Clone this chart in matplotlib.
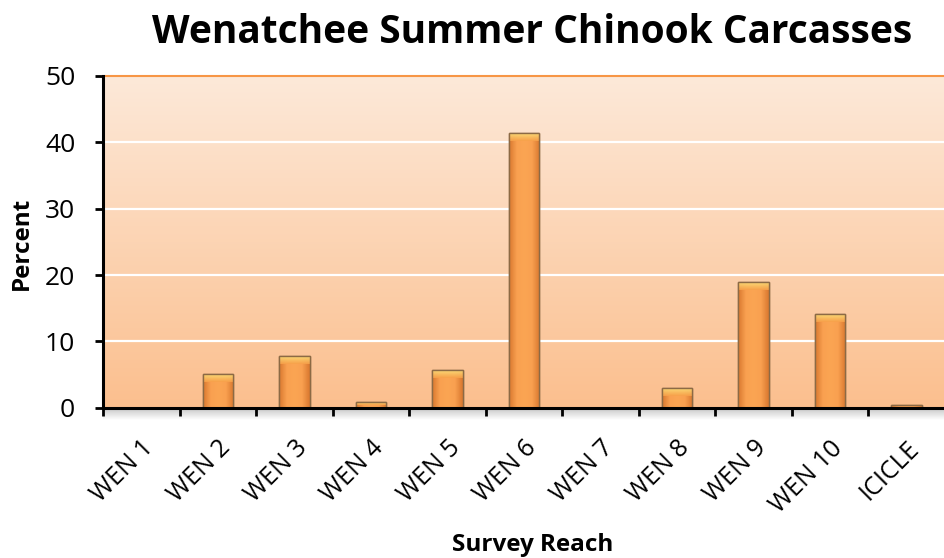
import numpy as np
import matplotlib.pyplot as plt
from matplotlib.colors import LinearSegmentedColormap

reaches = ["WEN 1", "WEN 2", "WEN 3", "WEN 4", "WEN 5", "WEN 6",
           "WEN 7", "WEN 8", "WEN 9", "WEN 10", "ICICLE"]
percent = [0.0, 5.1, 7.8, 0.9, 5.7, 41.4, 0.0, 3.0, 19.0, 14.2, 0.5]
y_ticks = [0, 10, 20, 30, 40, 50]

fig = plt.figure(figsize=(9.45, 5.58), dpi=100)

# soft grey shadow just under the category axis
sh = fig.add_axes([0.109, 1 - 420 / 558, 0.891, 12 / 558])
shade = LinearSegmentedColormap.from_list("shade", ["#ffffff", "#c8c8c8"])
sh.imshow(np.linspace(0, 1, 32).reshape(-1, 1), cmap=shade, aspect="auto",
          origin="lower")
sh.set_axis_off()

ax = fig.add_axes([0.109, 0.269, 0.891, 0.595])

n = len(reaches)
ax.set_xlim(-0.5, n - 0.5)
ax.set_ylim(0, 50)

# peach gradient behind the plot
bg = LinearSegmentedColormap.from_list("bg", ["#fbbf8e", "#fde9d9"])
ax.imshow(np.linspace(0, 1, 256).reshape(-1, 1), cmap=bg, aspect="auto",
          extent=(-0.5, n - 0.5, 0, 50), origin="lower", zorder=0)

for y in y_ticks[1:-1]:
    ax.axhline(y, color="white", lw=1.6, zorder=1)

# bars with a rounded-looking shading and a yellow cap
x = np.arange(n)
bars = ax.bar(x, percent, width=0.4, color="#f79646", edgecolor="#8c6a45",
              linewidth=1.0, zorder=3)
body = LinearSegmentedColormap.from_list(
    "body", ["#d9782f", "#f9a050", "#fba553", "#f9a050", "#d9782f"])
cap = LinearSegmentedColormap.from_list("cap", ["#f7a04a", "#fbe07a"])
for b, v in zip(bars, percent):
    if v <= 0:
        continue
    x0, w = b.get_x(), b.get_width()
    im = ax.imshow(np.linspace(0, 1, 64).reshape(1, -1), cmap=body,
                   aspect="auto", extent=(x0, x0 + w, 0, v), zorder=3.1)
    im.set_clip_path(b)
    ch = min(1.2, v * 0.5)
    im2 = ax.imshow(np.linspace(0, 1, 32).reshape(-1, 1), cmap=cap,
                    aspect="auto", extent=(x0, x0 + w, v - ch, v),
                    origin="lower", zorder=3.2, alpha=0.9)
    im2.set_clip_path(b)
    ax.bar(b.get_x() + w / 2, v, width=w, facecolor="none",
           edgecolor="#8c6a45", linewidth=1.0, zorder=3.3)

ax.set_xticks(x)
ax.set_xticklabels(reaches, rotation=45, ha="right", rotation_mode="anchor",
                   fontsize=18, fontfamily="Open Sans")
ax.set_xticks(np.arange(-0.5, n, 1), minor=True)
ax.tick_params(axis="x", which="major", length=0, pad=20)
ax.tick_params(axis="x", which="minor", length=6, width=2, color="black",
               direction="out")
ax.set_yticks(y_ticks)
ax.set_yticklabels([str(t) for t in y_ticks], fontsize=19,
                   fontfamily="Open Sans")
ax.tick_params(axis="y", length=6, width=2, color="black", direction="out",
               pad=14)

for s in ["left", "bottom"]:
    ax.spines[s].set_linewidth(2.2)
    ax.spines[s].set_color("black")
    ax.spines[s].set_zorder(5)
ax.spines["top"].set_color("#f79646")
ax.spines["top"].set_linewidth(1.5)
ax.spines["right"].set_visible(False)

ax.set_ylabel("Percent", fontsize=17.5, fontweight="bold",
              fontfamily="Open Sans")
ax.yaxis.set_label_coords(-0.096, 0.497)
ax.set_xlabel("Survey Reach", fontsize=17.5, fontweight="bold",
              fontfamily="Open Sans")
ax.xaxis.set_label_coords(0.51, -0.413)
ax.xaxis.label.set_va("center")
ax.yaxis.label.set_va("center")
fig.text(0.563, 0.941, "Wenatchee Summer Chinook Carcasses", ha="center",
         va="center", fontsize=28, fontweight="bold", fontfamily="Open Sans")

fig.savefig("out.png", dpi=100)
